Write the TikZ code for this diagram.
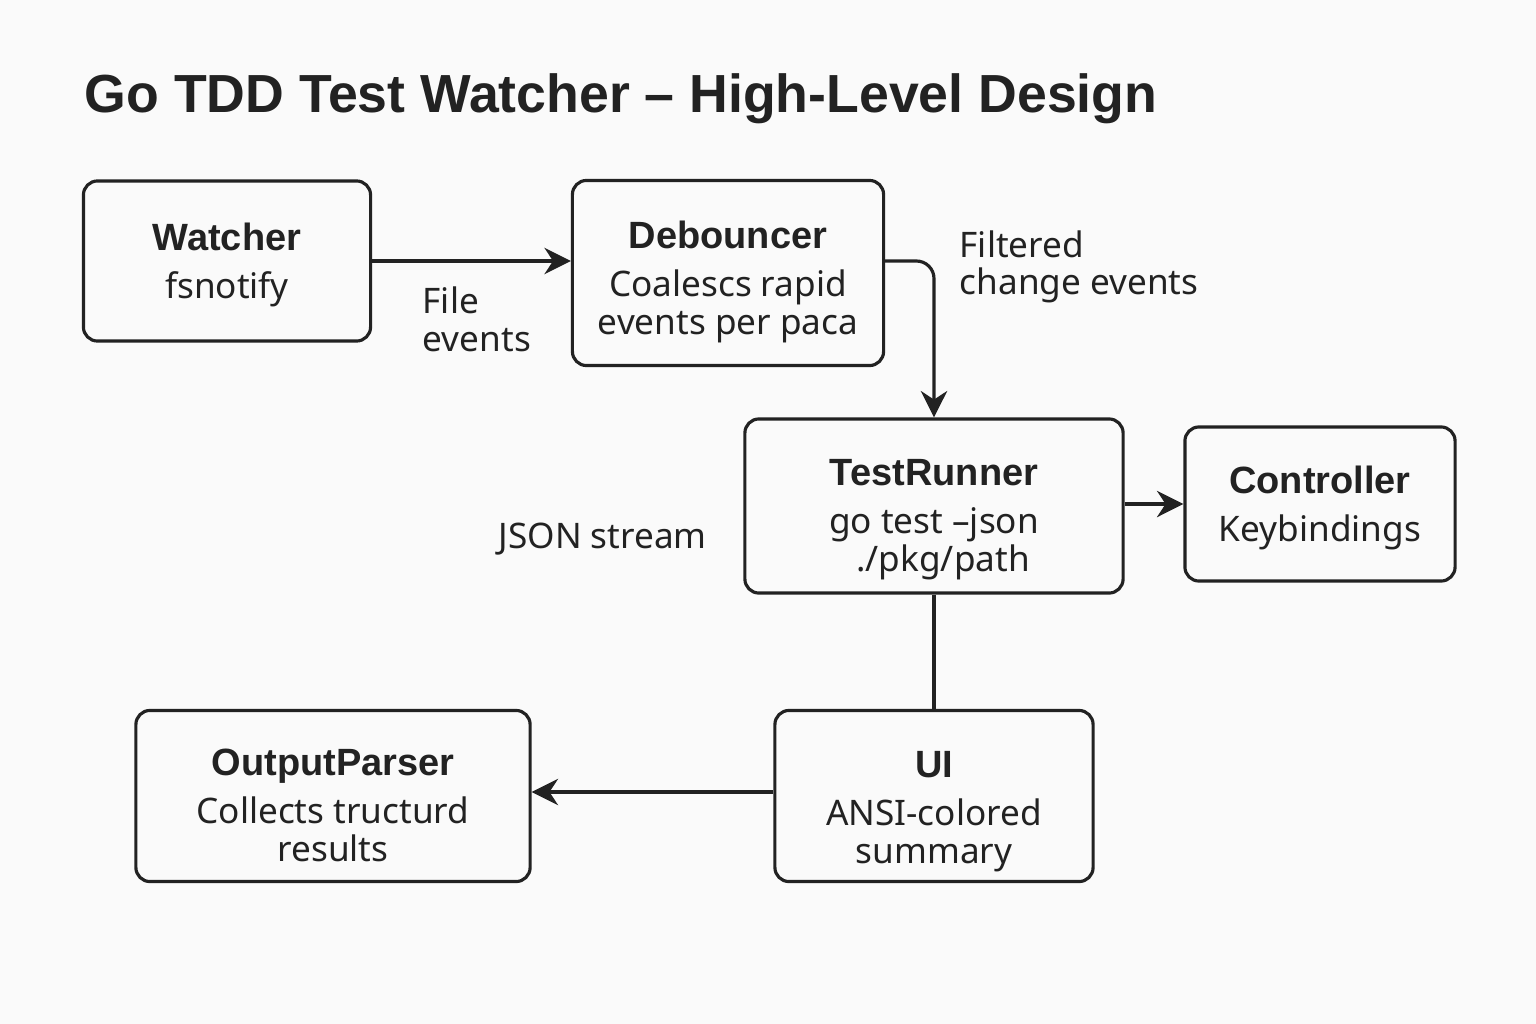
\documentclass[tikz,border=0pt]{standalone}
\usepackage{fontspec}
\setmainfont{Noto Sans}
\newfontfamily\headfont{Liberation Sans}
\usetikzlibrary{arrows.meta}

\definecolor{ink}{HTML}{222222}
\definecolor{paper}{HTML}{FAFAFA}

% title of a box in bold, then its description
\newcommand{\boxhead}[2][13pt]{\rule{0pt}{#1}{\headfont\fontsize{10.8}{12}\bfseries #2}\\[3pt]}

\begin{document}
\begin{tikzpicture}[x=0.01cm, y=-0.01cm, >={Stealth[length=7.5pt,width=7.5pt]},
	comp/.style={draw=ink, line width=0.9pt, rounded corners=4pt, align=center,
		text=ink, inner sep=0pt, font=\fontsize{10}{10.7}\selectfont},
	flow/.style={draw=ink, line width=0.9pt},
	note/.style={text=ink, align=left, anchor=west, inner sep=0pt,
		font=\fontsize{10}{10.7}\selectfont}]
	
	% Nen va khung
	\fill[paper] (0,0) rectangle (1536,1024);
	\useasboundingbox (0,0) rectangle (1536,1024);
	
	% Tieu de
	\node[anchor=base west, inner sep=0pt, text=ink, font=\headfont\fontsize{15.25}{18}\bfseries]
		(title) at (84,112) {Go TDD Test Watcher – High-Level Design};
	
	% Cac khoi
	\node[comp, minimum width=2.87cm, minimum height=1.60cm] (wat) at (227,261)
		{\boxhead[10pt]{Watcher}fsnotify};
	\node[comp, minimum width=3.11cm, minimum height=1.85cm] (deb) at (728,273)
		{\boxhead{Debouncer}Coalescs rapid\\events per paca};
	\node[comp, minimum width=3.78cm, minimum height=1.74cm] (run) at (934,506)
		{\boxhead[15.3pt]{TestRunner}go test –json\\\ \ ./pkg/path};
	\node[comp, minimum width=2.70cm, minimum height=1.54cm] (ctl) at (1320,504)
		{\boxhead[10pt]{Controller}Keybindings};
	\node[comp, minimum width=3.94cm, minimum height=1.71cm] (par) at (333,796)
		{\boxhead{OutputParser}Collects tructurd\\results};
	\node[comp, minimum width=3.18cm, minimum height=1.71cm] (ui) at (934,796)
		{\boxhead[16.4pt]{UI}ANSI-colored\\summary};
	
	% Cac mui ten
	\draw[flow, ->] (wat.east) -- (deb.west |- wat.east);
	\draw[flow, ->, rounded corners=5pt] (deb.east |- wat.east) -| (run.north);
	\draw[flow, ->] (run.east |- ctl.west) -- (ctl.west);
	\draw[flow] (run.south) -- (ui.north);
	\draw[flow, ->] (ui.west) ++(0,-4) coordinate (uiw) -- (uiw -| par.east);
	
	% Nhan
	\node[note] (lfile) at (422,319) {File\\events};
	\node[note] (lfilt) at (959,267) {Filtered\\change events};
	\node[note] (ljson) at (498,539) {JSON stream};
	
\end{tikzpicture}
\end{document}
